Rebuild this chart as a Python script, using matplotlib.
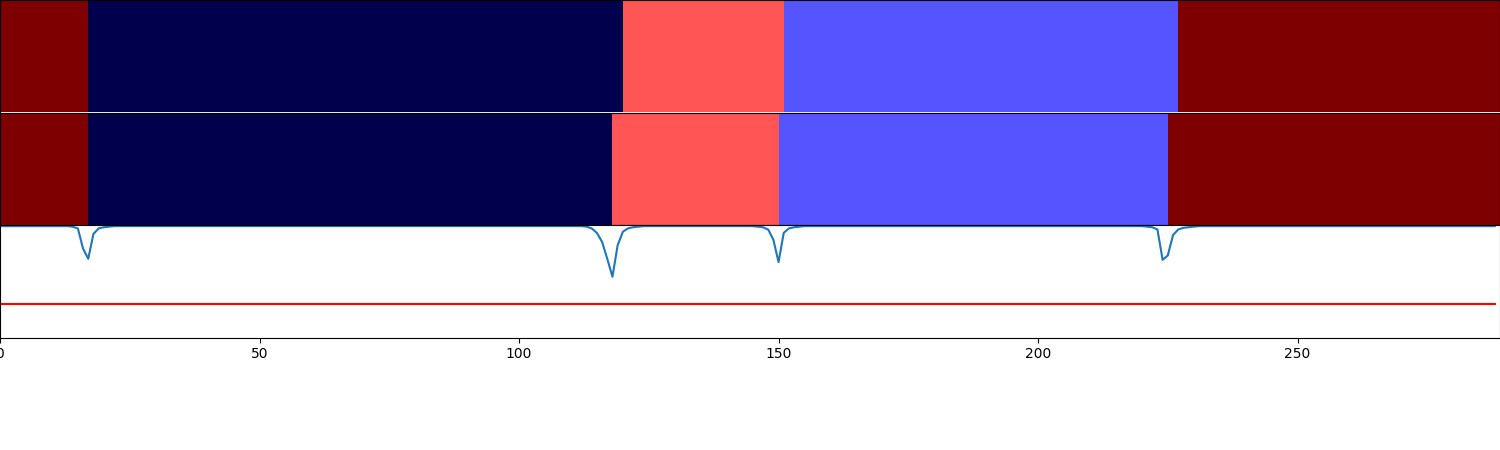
import matplotlib
matplotlib.use('Agg')
import matplotlib.pyplot as plt
import numpy as np

# segment labels as (class id, run length)
gt_runs = [(3, 17), (0, 103), (2, 31), (1, 76), (3, 62)]
pred_runs = [(3, 17), (0, 101), (2, 32), (1, 75), (3, 64)]

# per-frame confidence
confidence = ([0.99] * 14 + [0.985, 0.97, 0.79, 0.70, 0.92, 0.97]
              + [0.98, 0.985] + [0.99] * 18
              + [0.99] * 60
              + [0.99] * 13 + [0.985, 0.97, 0.93, 0.85, 0.70, 0.54, 0.82]
              + [0.94, 0.97, 0.98, 0.985] + [0.99] * 16
              + [0.99] * 6 + [0.985, 0.98, 0.96, 0.87, 0.67, 0.93, 0.97, 0.98, 0.985] + [0.99] * 5
              + [0.99] * 60
              + [0.99, 0.985, 0.98, 0.96, 0.69, 0.73, 0.91, 0.96, 0.975, 0.98, 0.985] + [0.99] * 9
              + [0.99] * 40
              + [0.99] * 9)
threshold = 0.3


def runs_to_frames(runs):
    return np.repeat([c for c, _ in runs], [n for _, n in runs])


def segment_bars_with_confidence(save_path, confidence, *labels):
    num_pics = len(labels) + 1
    color_map = plt.get_cmap('seismic')
    barprops = dict(aspect='auto', cmap=color_map, interpolation='nearest', vmin=0)
    fig = plt.figure(figsize=(15, num_pics * 1.5))
    interval = 1 / (num_pics + 1)
    for i, label in enumerate(labels):
        i = i + 1
        ax1 = fig.add_axes([0, 1 - i * interval, 1, interval])
        ax1.imshow([label], **barprops)
        # these labels sit under the next axes / off the figure anyway
        ax1.tick_params(labelbottom=False, labelleft=False)

    ax4 = fig.add_axes([0, interval, 1, interval])
    ax4.set_xlim(0, len(confidence))
    ax4.set_ylim(0, 1)
    ax4.plot(range(len(confidence)), confidence)
    ax4.plot(range(len(confidence)), [threshold] * len(confidence), color='red', label='0.5')
    ax4.tick_params(labelleft=False)

    plt.savefig(save_path, dpi=100)
    plt.close()


if __name__ == "__main__":
    segment_bars_with_confidence('out.png', confidence,
                                 runs_to_frames(gt_runs), runs_to_frames(pred_runs))
